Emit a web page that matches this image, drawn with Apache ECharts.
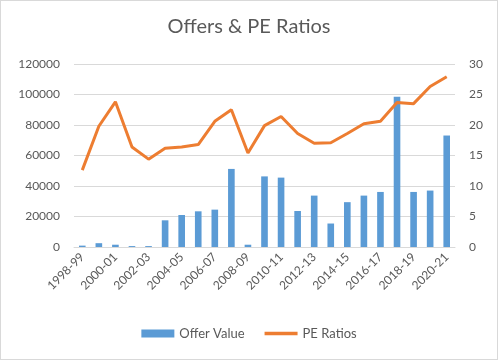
<!DOCTYPE html>
<html><head><meta charset="utf-8">
<script src="https://cdn.jsdelivr.net/npm/echarts@6/dist/echarts.min.js"></script>
<style>html,body{margin:0;padding:0;background:#fff}#c{width:498px;height:360px;box-sizing:border-box;border:1px solid #d9d9d9}</style>
</head><body><div id="c"></div>
<script>
const categories = ['1998-99','1999-00','2000-01','2001-02','2002-03','2003-04','2004-05','2005-06','2006-07','2007-08','2008-09','2009-10','2010-11','2011-12','2012-13','2013-14','2014-15','2015-16','2016-17','2017-18','2018-19','2019-20','2020-21'];
const offerValue = [900,2500,1500,600,600,17500,21000,23400,24500,51200,1500,46300,45500,23600,33700,15400,29400,33700,36100,98600,36100,37000,73100];
const peRatios = [12.6,19.8,23.8,16.4,14.4,16.2,16.4,16.8,20.6,22.5,15.4,19.9,21.4,18.6,17.0,17.1,18.6,20.2,20.6,23.7,23.5,26.3,27.9];
const leftTicks = [0,20000,40000,60000,80000,100000,120000];
const rightTicks = [0,5,10,15,20,25,30];
const txt = '#595959';
const font = 'Lato';
const chart = echarts.init(document.getElementById('c'));
chart.setOption({
  animation:false,
  textStyle:{fontFamily:font},
  title:{text:'Offers & PE Ratios',left:'center',top:11,textStyle:{fontFamily:font,fontSize:20,fontWeight:'normal',color:txt}},
  legend:{bottom:14,itemGap:20,textStyle:{color:txt,fontSize:13,fontFamily:font},
    data:[{name:'Offer Value',icon:'rect',itemStyle:{color:'#5B9BD5'}},{name:'PE Ratios',icon:'path://M0,0 L40,0 L40,4 L0,4 Z'}],
    itemWidth:33,itemHeight:8},
  grid:{left:73,right:42,top:63,bottom:112},
  xAxis:{type:'category',data:categories,
    axisLine:{lineStyle:{color:'#d9d9d9'}},axisTick:{show:false},
    axisLabel:{color:txt,fontSize:12,rotate:45,interval:1,margin:8}},
  yAxis:[
    {type:'value',min:leftTicks[0],max:leftTicks[leftTicks.length-1],interval:20000,
     axisLabel:{color:txt,fontSize:12,margin:14,formatter:v=>String(v)},splitLine:{lineStyle:{color:'#d9d9d9'}},axisLine:{show:false},axisTick:{show:false}},
    {type:'value',min:rightTicks[0],max:rightTicks[rightTicks.length-1],interval:5,
     axisLabel:{color:txt,fontSize:12,margin:14},splitLine:{show:false},axisLine:{show:false},axisTick:{show:false}}
  ],
  series:[
    {name:'Offer Value',type:'bar',data:offerValue,barWidth:'40%',itemStyle:{color:'#5B9BD5'}},
    {name:'PE Ratios',type:'line',yAxisIndex:1,data:peRatios,symbol:'none',lineStyle:{color:'#ED7D31',width:3},itemStyle:{color:'#ED7D31'}}
  ]
});
</script></body></html>
